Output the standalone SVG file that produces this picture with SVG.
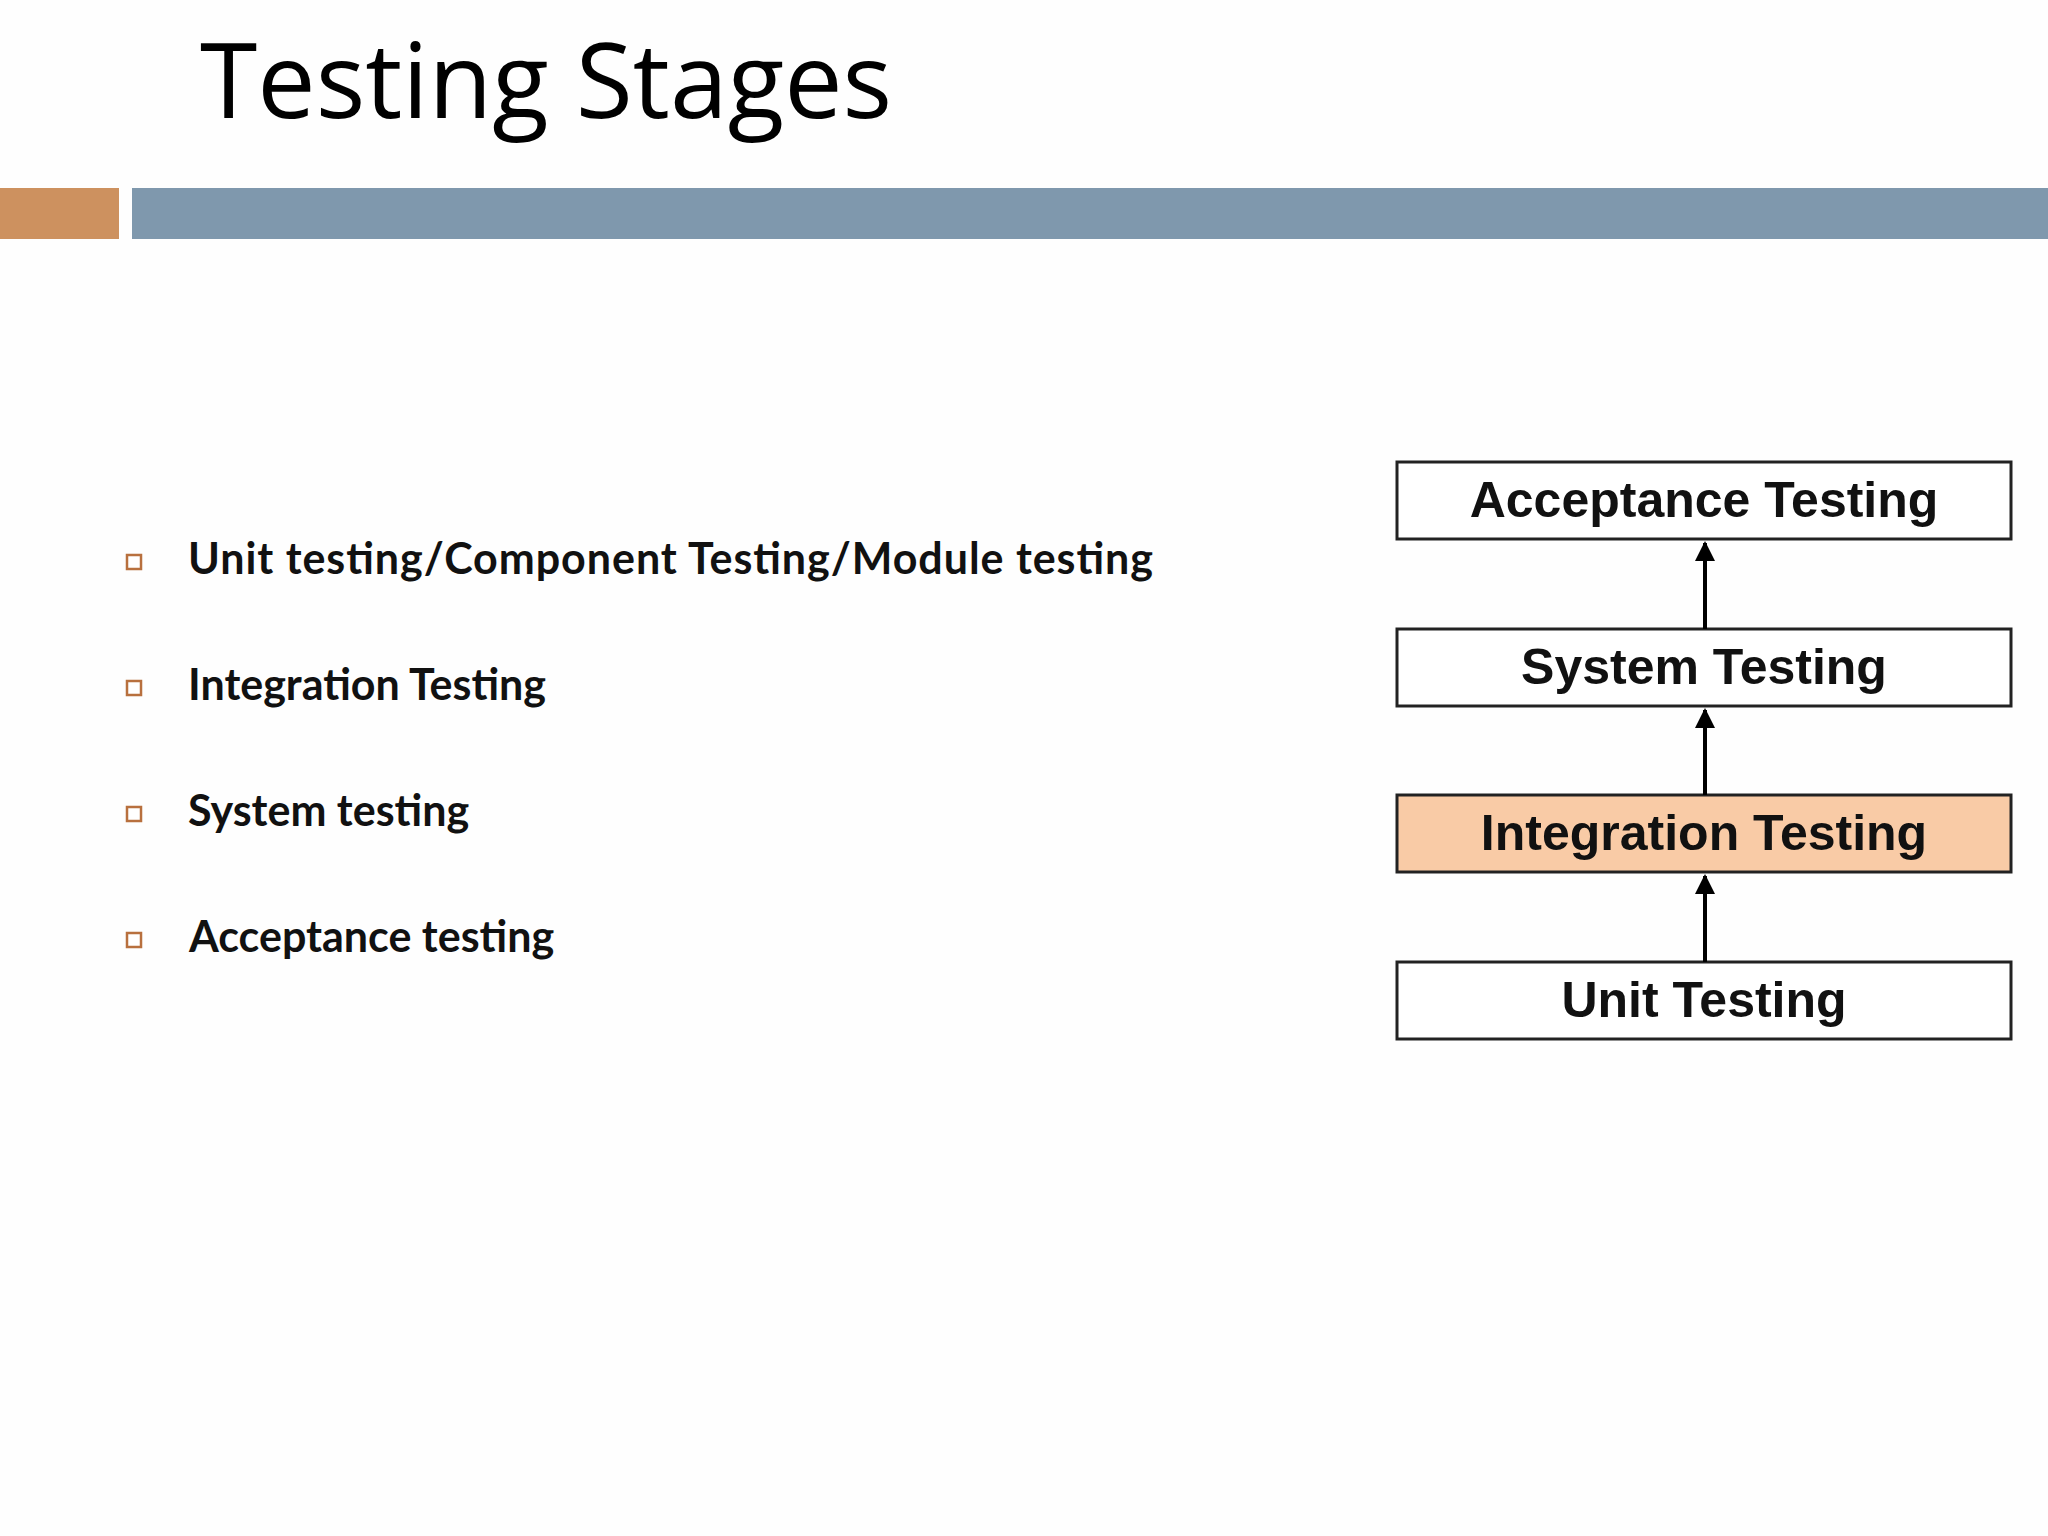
<svg xmlns="http://www.w3.org/2000/svg" width="2048" height="1536" viewBox="0 0 2048 1536">
<defs>
<style>
.title{font-family:"Open Sans","Liberation Sans",sans-serif;font-size:104px;fill:#000}
.bt{font-family:"Lato","Liberation Sans",sans-serif;font-weight:bold;font-size:43px;fill:#111}
.box{fill:#fff;stroke:#222;stroke-width:3}
.lbl{font-family:"Liberation Sans",Arial,sans-serif;font-weight:bold;font-size:50px;fill:#111;text-anchor:middle}
.bul{fill:#fff;stroke:#b8703e;stroke-width:2.5}
</style>
<marker id="ah" viewBox="0 0 10 10" refX="9" refY="5" markerWidth="5" markerHeight="5" orient="auto"><path d="M0,0L10,5L0,10z" fill="#000"/></marker>
</defs>
<rect width="2048" height="1536" fill="#fefefe"/>
<text class="title" x="200" y="118">Testing Stages</text>
<rect x="0" y="188" width="119" height="51" fill="#cd915f"/>
<rect x="132" y="188" width="1916" height="51" fill="#7f98ad"/>
<g id="bullets">
<rect class="bul" x="127" y="555" width="14" height="14"/><text class="bt" x="188" y="574" textLength="965">Unit testing/Component Testing/Module testing</text>
<rect class="bul" x="127" y="681" width="14" height="14"/><text class="bt" x="188" y="700">Integration Testing</text>
<rect class="bul" x="127" y="807" width="14" height="14"/><text class="bt" x="188" y="826">System testing</text>
<rect class="bul" x="127" y="933" width="14" height="14"/><text class="bt" x="189" y="952">Acceptance testing</text>
</g>
<g id="acceptance"><rect class="box" x="1397" y="462" width="614" height="77"/><text class="lbl" x="1704" y="517">Acceptance Testing</text></g>
<g id="system"><rect class="box" x="1397" y="629" width="614" height="77"/><text class="lbl" x="1704" y="684">System Testing</text></g>
<g id="integration"><rect class="box" x="1397" y="795" width="614" height="77" style="fill:#f9cba6"/><text class="lbl" x="1704" y="850">Integration Testing</text></g>
<g id="unit"><rect class="box" x="1397" y="962" width="614" height="77"/><text class="lbl" x="1704" y="1017">Unit Testing</text></g>
<g id="connectors" stroke="#000" stroke-width="4" marker-end="url(#ah)">
<line x1="1705" y1="629" x2="1705" y2="543"/>
<line x1="1705" y1="795" x2="1705" y2="710"/>
<line x1="1705" y1="962" x2="1705" y2="876"/>
</g>
</svg>
